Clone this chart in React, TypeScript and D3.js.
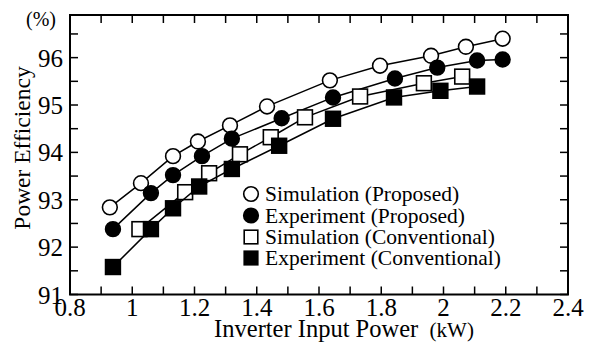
import React from "react";
import * as d3 from "d3";

const simPropX = [0.928, 1.028, 1.131, 1.211, 1.314, 1.433, 1.635, 1.796, 1.96, 2.072, 2.19];
const simPropY = [92.84, 93.35, 93.92, 94.23, 94.57, 94.97, 95.52, 95.83, 96.04, 96.23, 96.4];
const expPropX = [0.938, 1.06, 1.131, 1.224, 1.32, 1.48, 1.645, 1.844, 1.98, 2.108, 2.19];
const expPropY = [92.38, 93.14, 93.52, 93.92, 94.29, 94.72, 95.16, 95.56, 95.79, 95.94, 95.96];
const simConvX = [1.023, 1.17, 1.247, 1.346, 1.445, 1.555, 1.732, 1.937, 2.06];
const simConvY = [92.38, 93.16, 93.56, 93.96, 94.32, 94.74, 95.18, 95.46, 95.6];
const expConvX = [0.938, 1.06, 1.131, 1.215, 1.32, 1.472, 1.645, 1.841, 1.99, 2.108];
const expConvY = [91.58, 92.38, 92.82, 93.28, 93.65, 94.14, 94.71, 95.16, 95.3, 95.39];

const xTicks = [0.8, 1, 1.2, 1.4, 1.6, 1.8, 2, 2.2, 2.4];
const xTickLabels = ["0.8", "1", "1.2", "1.4", "1.6", "1.8", "2", "2.2", "2.4"];
const yTicks = [91, 92, 93, 94, 95, 96];
const legendLabels = [
  "Simulation (Proposed)",
  "Experiment (Proposed)",
  "Simulation (Conventional)",
  "Experiment (Conventional)",
];

const FONT = "Liberation Serif, Tinos, Times New Roman, Times, serif";

export default function App() {
  const W = 595, H = 342;
  const left = 70, right = 568, top = 15, bottom = 294.5;
  const x = d3.scaleLinear().domain([0.8, 2.4]).range([left, right]);
  const y = d3.scaleLinear().domain([91, 96.9]).range([bottom, top]);

  const series = [
    { xs: simPropX, ys: simPropY, shape: "circle", fill: "white" },
    { xs: expPropX, ys: expPropY, shape: "circle", fill: "black" },
    { xs: simConvX, ys: simConvY, shape: "square", fill: "white" },
    { xs: expConvX, ys: expConvY, shape: "square", fill: "black" },
  ];

  const line = d3
    .line<[number, number]>()
    .x((d) => x(d[0]))
    .y((d) => y(d[1]));

  const xMinor = d3.range(0.8, 2.4001, 0.1);
  const yMinor = d3.range(91, 96.9, 0.5);
  const tl = 8;

  const marker = (shape: string, fill: string, cx: number, cy: number, key: any, r = 7.4) =>
    shape === "circle" ? (
      <circle key={key} cx={cx} cy={cy} r={r} fill={fill} stroke="black" strokeWidth={1.6} />
    ) : (
      <rect key={key} x={cx - r} y={cy - r} width={2 * r} height={2 * r} fill={fill} stroke="black" strokeWidth={1.6} />
    );

  const legY = [194, 215.5, 237, 258];

  return (
    <svg width={W} height={H} style={{ position: "absolute", left: 0, top: 0, background: "white", fontFamily: FONT }}>
      <rect x={0} y={0} width={W} height={H} fill="white" />
      {xMinor.map((v, i) => (
        <g key={"xt" + i}>
          <line x1={x(v)} x2={x(v)} y1={bottom} y2={bottom - tl} stroke="black" strokeWidth={1.5} />
          <line x1={x(v)} x2={x(v)} y1={top} y2={top + tl} stroke="black" strokeWidth={1.5} />
        </g>
      ))}
      {yMinor.map((v, i) => (
        <g key={"yt" + i}>
          <line x1={left} x2={left + tl} y1={y(v)} y2={y(v)} stroke="black" strokeWidth={1.5} />
          <line x1={right} x2={right - tl} y1={y(v)} y2={y(v)} stroke="black" strokeWidth={1.5} />
        </g>
      ))}
      <rect x={left} y={top} width={right - left} height={bottom - top} fill="none" stroke="black" strokeWidth={2} />
      {xTicks.map((v, i) => (
        <text key={"xl" + i} x={x(v)} y={316} textAnchor="middle" fontSize={25}>
          {xTickLabels[i]}
        </text>
      ))}
      {yTicks.map((v, i) => (
        <text key={"yl" + i} x={63} y={y(v) + 9} textAnchor="end" fontSize={25}>
          {v}
        </text>
      ))}
      <text x={41} y={26} textAnchor="middle" fontSize={20}>(%)</text>
      <text x={0} y={0} transform={`translate(30,148) rotate(-90)`} textAnchor="middle" fontSize={23.5}>
        Power Efficiency
      </text>
      <text x={344} y={337} textAnchor="middle" fontSize={24.5}>
        Inverter Input Power <tspan fontSize={21}>{"\u00a0(kW)"}</tspan>
      </text>
      {series.map((s, si) => (
        <g key={"s" + si}>
          <path d={line(s.xs.map((v, i) => [v, s.ys[i]] as [number, number])) || ""} fill="none" stroke="black" strokeWidth={1.5} />
          {s.xs.map((v, i) => marker(s.shape, s.fill, x(v), y(s.ys[i]), i))}
        </g>
      ))}
      {series.map((s, i) => (
        <g key={"lg" + i}>
          {marker(s.shape, s.fill, 251, legY[i], "m", s.shape === "circle" ? 7.3 : 6.8)}
          <text x={265} y={legY[i] + 7} fontSize={21.5}>
            {legendLabels[i]}
          </text>
        </g>
      ))}
    </svg>
  );
}
